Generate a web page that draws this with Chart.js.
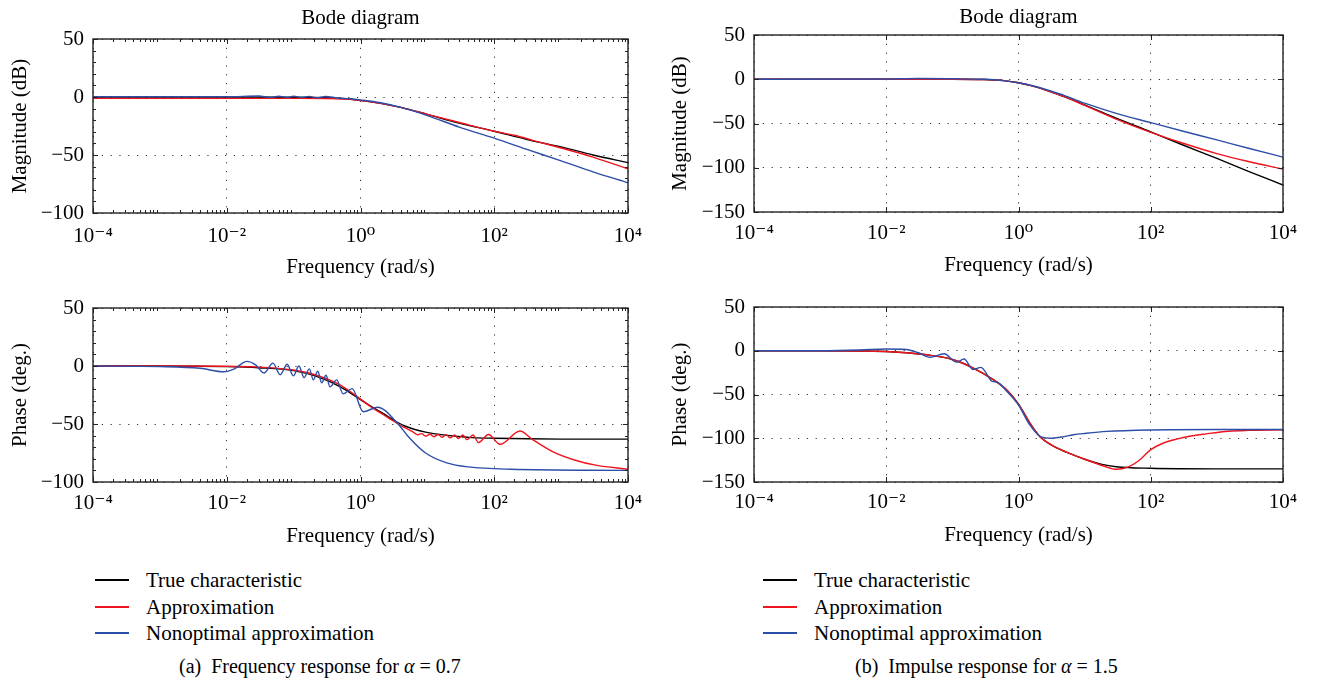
<!DOCTYPE html>
<html>
<head>
<meta charset="utf-8">
<script src="https://cdn.jsdelivr.net/npm/chart.js@4.4.1/dist/chart.umd.min.js"></script>
<style>
  body { margin: 0; background: #fff; width: 1319px; height: 686px; position: relative; overflow: hidden;
         font-family: 'Liberation Serif', 'DejaVu Serif', serif; color: #000; }
  .panel { position: absolute; }
  .legend { position: absolute; font-size: 21px; }
  .legend .row { position: relative; height: 26.5px; line-height: 26.5px; padding-left: 51px; white-space: nowrap; }
  .legend .swatch { position: absolute; left: 0; top: 12px; width: 34px; height: 2px; }
  .caption { position: absolute; font-size: 20px; line-height: 26px; white-space: nowrap; }
</style>
</head>
<body>
<div class="panel" style="left:0;top:0"><canvas id="magA" width="660" height="280"></canvas></div>
<div class="panel" style="left:660px;top:0"><canvas id="magB" width="659" height="280"></canvas></div>
<div class="panel" style="left:0;top:280px"><canvas id="phA" width="660" height="280"></canvas></div>
<div class="panel" style="left:660px;top:280px"><canvas id="phB" width="659" height="280"></canvas></div>
<div class="legend" id="legA" style="left:95px;top:567px"></div>
<div class="legend" id="legB" style="left:763px;top:567px"></div>
<div class="caption" style="left:179px;top:653px">(a)&nbsp; Frequency response for <i>α</i> = 0.7</div>
<div class="caption" style="left:855px;top:653px">(b)&nbsp; Impulse response for <i>α</i> = 1.5</div>
<script>
// frequency axis (rad/s)
var freqTicks = [1e-4, 1e-2, 1, 1e2, 1e4];
var freqTickLabels = ['10⁻⁴', '10⁻²', '10⁰', '10²', '10⁴'];
var seriesNames = ['True characteristic', 'Approximation', 'Nonoptimal approximation'];

// (a) alpha = 0.7, magnitude (dB)
var magA_trueF = [1e-4, 1e-2, 0.1, 0.3, 0.6, 1, 2, 4, 10, 30, 100, 300, 1000, 3000, 1e4];
var magA_trueV = [0, 0, -0.2, -0.6, -1.5, -3, -5.5, -9, -15, -22.5, -29.5, -36.5, -43, -50, -56.5];
var magA_approxF = [1e-4, 1e-2, 0.1, 0.3, 0.6, 1, 2, 4, 10, 30, 100, 200, 400, 1000, 3000, 1e4];
var magA_approxV = [-1.2, -1.2, -1.2, -1.3, -1.8, -3, -5.5, -9, -15, -22, -29.5, -33, -37.8, -44, -51.8, -62];
var magA_nonoptF = [1e-4, 0.01, 0.03, 0.045, 0.06, 0.08, 0.1, 0.13, 0.17, 0.22, 0.3, 0.45, 0.7, 1, 2, 4, 10, 30, 100, 300, 1000, 3000, 1e4];
var magA_nonoptV = [0.3, 0.3, 0.8, -0.3, 0.6, -0.4, 0.6, -0.5, 0.5, -0.6, 0.4, -0.8, -1.5, -2.5, -5, -9, -16, -26, -35.5, -45, -55, -64.5, -74];

// (a) alpha = 0.7, phase (deg.)
var phA_trueF = [1e-4, 1e-3, 0.01, 0.03, 0.1, 0.22, 0.5, 1, 1.5, 2.2, 3, 4.5, 9.4, 41, 100, 1000, 1e4];
var phA_trueV = [0, 0, -0.5, -1.5, -4, -9, -18, -29, -35.5, -41, -46, -51.5, -57, -61.5, -62.3, -63, -63];
var phA_approxF = [1e-4, 1e-3, 0.01, 0.03, 0.1, 0.22, 0.5, 1, 1.5, 2.2, 3, 4.5, 6, 7.2, 8.2, 9.5, 11, 12.5, 14.5, 16.5, 19, 22, 25.5, 29, 34, 39, 48, 58, 82, 122, 243, 367, 760, 1580, 3290, 1e4];
var phA_approxV = [0, 0, -0.2, -1, -3.5, -8, -16.5, -28.5, -36, -42, -47, -53, -56.5, -59.3, -58.3, -60.5, -58.8, -61, -59, -61.5, -59.2, -62, -59.5, -62.5, -59.5, -63.5, -59.5, -66, -59, -67.5, -56, -63, -74, -81, -85.5, -89];
var phA_nonoptF = [1e-4, 1e-3, 0.004, 0.009, 0.013, 0.02, 0.027, 0.036, 0.049, 0.063, 0.08, 0.099, 0.12, 0.143, 0.172, 0.197, 0.229, 0.263, 0.305, 0.35, 0.44, 0.55, 0.75, 1.1, 1.8, 3.6, 5.2, 9.4, 19.5, 41, 176, 1e4];
var phA_nonoptV = [0, -0.5, -2, -5, -2.5, 4, 1, -6, 2.5, -7.5, 1.5, -8.5, 0, -10, -2.5, -12, -4.5, -14.5, -8, -18, -12, -24, -19.5, -39.5, -35.5, -49.5, -61, -75, -83.5, -87, -89, -90];

// (b) alpha = 1.5, magnitude (dB)
var magB_trueF = [1e-4, 0.01, 0.1, 0.3, 0.6, 1, 2, 3, 5, 10, 30, 100, 300, 1000, 3000, 1e4];
var magB_trueV = [0, 0, 0, -0.3, -1.5, -4, -9.5, -14, -20, -29, -44, -59.5, -74, -89.5, -104, -119.5];
var magB_approxF = [1e-4, 0.01, 0.1, 0.3, 0.6, 1, 2, 3, 5, 10, 30, 100, 300, 1000, 3000, 1e4];
var magB_approxV = [0, 0, 0, -0.3, -1.5, -4, -9.5, -14, -20, -29.5, -45, -60, -72, -84, -93, -101.5];
var magB_nonoptF = [1e-4, 0.01, 0.03, 0.1, 0.3, 0.6, 1, 2, 3, 5, 10, 30, 100, 300, 1000, 3000, 1e4];
var magB_nonoptV = [0, 0.2, 0.8, 0.5, 0, -1.5, -4, -9, -13, -18.5, -27, -38.5, -49, -58.5, -68.5, -78, -88];

// (b) alpha = 1.5, phase (deg.)
var phB_trueF = [1e-4, 1e-3, 0.01, 0.041, 0.103, 0.207, 0.416, 0.66, 1, 1.49, 2.1, 3.37, 6.75, 10, 17.6, 30, 100, 1000, 1e4];
var phB_trueV = [0, 0, -0.8, -4.6, -10.3, -19.8, -33, -44.6, -61, -82.7, -98, -109, -119, -124, -129.5, -132.5, -134.3, -135, -135];
var phB_approxF = [1e-4, 1e-3, 0.01, 0.041, 0.103, 0.207, 0.416, 0.66, 1, 1.49, 2.1, 3.37, 6.75, 10, 20, 30, 45, 65, 100, 150, 246, 400, 685, 1500, 2960, 1e4];
var phB_approxV = [0, 0, -0.8, -4.6, -10.3, -19.8, -33, -44.6, -61, -82.7, -98, -109, -119, -124, -132, -135.5, -133, -126, -113, -106, -101, -97.5, -95, -92, -91, -90.3];
var phB_nonoptF = [1e-4, 1e-3, 0.004, 0.01, 0.02, 0.03, 0.046, 0.075, 0.116, 0.15, 0.207, 0.27, 0.4, 0.48, 0.66, 1, 1.49, 2.2, 3, 4.5, 6.75, 10, 21.5, 100, 1000, 1e4];
var phB_nonoptV = [0, 0, 0.8, 2, 1.5, -2, -7.5, -3.5, -13, -9.5, -21.5, -19, -35, -36, -46, -62, -85, -98.5, -100, -98.5, -96, -94.5, -92.2, -90.5, -90, -90];

var colors = ['#000000', '#f0141e', '#2c4ea8'];
var FONT = "'Liberation Serif', 'DejaVu Serif', serif";

function xy(f, v) {
  return f.map(function (x, i) { return { x: x, y: v[i] }; });
}

// box round the plot with inward ticks, like the matlab axes
var framePlugin = {
  id: 'frame',
  afterDatasetsDraw: function (chart, args, opts) {
    var ctx = chart.ctx, a = chart.chartArea, sx = chart.scales.x, sy = chart.scales.y;
    ctx.save();
    ctx.strokeStyle = '#222';
    ctx.lineWidth = 1;
    function vt(v, len) {
      var p = Math.round(sx.getPixelForValue(v)) + 0.5;
      ctx.beginPath();
      ctx.moveTo(p, a.bottom); ctx.lineTo(p, a.bottom - len);
      ctx.moveTo(p, a.top); ctx.lineTo(p, a.top + len);
      ctx.stroke();
    }
    function ht(v, len) {
      var p = Math.round(sy.getPixelForValue(v)) + 0.5;
      ctx.beginPath();
      ctx.moveTo(a.left, p); ctx.lineTo(a.left + len, p);
      ctx.moveTo(a.right, p); ctx.lineTo(a.right - len, p);
      ctx.stroke();
    }
    if (opts.minor) {
      for (var e = -4; e < 4; e++) {
        for (var m = 2; m < 10; m++) vt(m * Math.pow(10, e), 3);
      }
      for (var v = sy.min; v <= sy.max; v += 10) ht(v, 3);
    }
    sx.ticks.forEach(function (t) { vt(t.value, 5); });
    sy.ticks.forEach(function (t) { ht(t.value, 5); });
    ctx.lineWidth = 1.4;
    ctx.strokeRect(a.left, a.top, a.right - a.left, a.bottom - a.top);
    ctx.restore();
  }
};

function makePanel(id, c) {
  var font = { family: FONT, size: 21 };
  return new Chart(document.getElementById(id), {
    type: 'line',
    data: {
      datasets: [
        { label: seriesNames[0], data: xy(c.trueF, c.trueV), borderColor: colors[0], order: 3 },
        { label: seriesNames[1], data: xy(c.approxF, c.approxV), borderColor: colors[1], order: 2 },
        { label: seriesNames[2], data: xy(c.nonoptF, c.nonoptV), borderColor: colors[2], order: 1 }
      ]
    },
    options: {
      responsive: false,
      animation: false,
      layout: { padding: c.pad },
      elements: {
        point: { radius: 0 },
        line: { borderWidth: 1.4, cubicInterpolationMode: 'monotone', fill: false }
      },
      plugins: {
        legend: { display: false },
        tooltip: { enabled: false },
        title: {
          display: !!c.titlePad, text: 'Bode diagram', fullSize: false, color: '#000',
          font: { family: FONT, size: 21, weight: 'normal' }, padding: c.titlePad
        },
        frame: { minor: c.minor }
      },
      scales: {
        x: {
          type: 'logarithmic', min: 1e-4, max: 1e4,
          afterBuildTicks: function (s) { s.ticks = freqTicks.map(function (v) { return { value: v }; }); },
          afterFit: function (s) { s.height = c.xH; },
          ticks: {
            autoSkip: false, maxRotation: 0, color: '#000', font: font, padding: c.xTickPad,
            callback: function (v, i) { return freqTickLabels[i]; }
          },
          grid: { color: '#333', lineWidth: 1, drawTicks: false },
          border: { display: false, dash: [1.2, 7.6] },
          title: { display: true, text: 'Frequency (rad/s)', color: '#000', font: font, padding: { top: 0, bottom: c.xTitlePad } }
        },
        y: {
          min: c.yMin, max: 50,
          afterFit: function (s) { s.width = c.yW; },
          ticks: {
            stepSize: 50, color: '#000', font: font, padding: 9,
            callback: function (v) { return String(v).replace('-', '−'); }
          },
          grid: { color: '#333', lineWidth: 1, drawTicks: false },
          border: { display: false, dash: [1.2, 7.6] },
          title: { display: true, text: c.yTitle, color: '#000', font: font, padding: { top: 7.4, bottom: 0 } }
        }
      }
    },
    plugins: [framePlugin]
  });
}

makePanel('magA', {
  trueF: magA_trueF, trueV: magA_trueV, approxF: magA_approxF, approxV: magA_approxV, nonoptF: magA_nonoptF, nonoptV: magA_nonoptV,
  yTitle: 'Magnitude (dB)', yMin: -100, minor: true,
  pad: { left: 0, right: 32, top: 0, bottom: 0 }, titlePad: { top: 5.4, bottom: 8.4 },
  yW: 93, xH: 67, xTickPad: 10.4, xTitlePad: 0.4
});
makePanel('magB', {
  trueF: magB_trueF, trueV: magB_trueV, approxF: magB_approxF, approxV: magB_approxV, nonoptF: magB_nonoptF, nonoptV: magB_nonoptV,
  yTitle: 'Magnitude (dB)', yMin: -150, minor: false,
  pad: { left: 0, right: 36, top: 0, bottom: 0 }, titlePad: { top: 4.4, bottom: 5.4 },
  yW: 94, xH: 68, xTickPad: 8.4, xTitlePad: 2.4
});
makePanel('phA', {
  trueF: phA_trueF, trueV: phA_trueV, approxF: phA_approxF, approxV: phA_approxV, nonoptF: phA_nonoptF, nonoptV: phA_nonoptV,
  yTitle: 'Phase (deg.)', yMin: -100, minor: true,
  pad: { left: 0, right: 32, top: 28, bottom: 0 }, titlePad: null,
  yW: 93, xH: 78, xTickPad: 8.4, xTitlePad: 11.4
});
makePanel('phB', {
  trueF: phB_trueF, trueV: phB_trueV, approxF: phB_approxF, approxV: phB_approxV, nonoptF: phB_nonoptF, nonoptV: phB_nonoptV,
  yTitle: 'Phase (deg.)', yMin: -150, minor: false,
  pad: { left: 0, right: 36, top: 27, bottom: 0 }, titlePad: null,
  yW: 94, xH: 78, xTickPad: 7.4, xTitlePad: 12.4
});

// legends under each column
['legA', 'legB'].forEach(function (id) {
  var box = document.getElementById(id);
  seriesNames.forEach(function (name, i) {
    var row = document.createElement('div');
    row.className = 'row';
    var sw = document.createElement('span');
    sw.className = 'swatch';
    sw.style.background = colors[i];
    row.appendChild(sw);
    row.appendChild(document.createTextNode(name));
    box.appendChild(row);
  });
});
</script>
</body>
</html>
